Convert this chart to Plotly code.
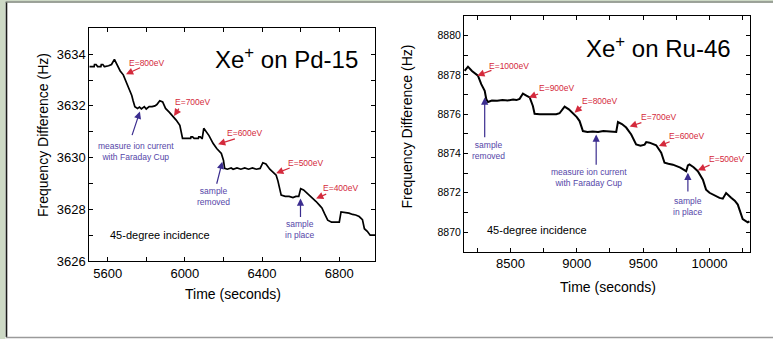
import plotly.graph_objects as go

W, H = 773, 339
FONT = "Liberation Sans, Arial, sans-serif"
RED = "#d42a3c"
BLUE_ARROW = "#3b2d8f"
BLUE_TEXT = "#5546a8"

# ---------------- data: Xe+ on Pd-15 ----------------
pd_time = [5505, 5530, 5532, 5540, 5548, 5550, 5565, 5567, 5575, 5583, 5585, 5605, 5620, 5635, 5650,
           5665, 5681, 5695, 5715, 5725, 5732, 5741, 5755, 5765, 5775, 5790, 5800, 5815, 5830, 5845,
           5855, 5870, 5885, 5900, 5920, 5939, 5955, 5974, 5982, 5988, 6010, 6030, 6032, 6040, 6048,
           6050, 6070, 6072, 6080, 6088, 6090, 6098, 6110, 6125, 6146, 6165, 6189, 6200, 6206, 6220,
           6240, 6250, 6270, 6290, 6310, 6330, 6350, 6370, 6390, 6404, 6420, 6440, 6455, 6473, 6482,
           6490, 6499, 6520, 6540, 6560, 6575, 6590, 6600, 6615, 6630, 6645, 6665, 6680, 6697, 6710,
           6723, 6740, 6760, 6780, 6800, 6809, 6830, 6850, 6869, 6885, 6903, 6920, 6930, 6945, 6960,
           6985]
pd_freq = [3633.52, 3633.52, 3633.6, 3633.6, 3633.52, 3633.52, 3633.52, 3633.6, 3633.6, 3633.52,
           3633.52, 3633.55, 3633.6, 3633.8, 3633.6, 3633.35, 3633.2, 3632.95, 3632.6, 3632.4,
           3632.2, 3631.97, 3631.9, 3631.95, 3631.88, 3631.97, 3631.88, 3631.97, 3631.97, 3632.0,
           3632.05, 3632.2, 3632.15, 3631.9, 3631.75, 3631.6, 3631.45, 3631.25, 3631.0, 3630.74,
           3630.74, 3630.74, 3630.8, 3630.8, 3630.74, 3630.74, 3630.74, 3630.8, 3630.8, 3630.74,
           3630.74, 3631.13, 3631.0, 3630.85, 3630.55, 3630.35, 3630.16, 3629.9, 3629.58, 3629.55,
           3629.6, 3629.55, 3629.6, 3629.55, 3629.6, 3629.55, 3629.6, 3629.55, 3629.58, 3629.8,
           3629.75, 3629.55, 3629.45, 3629.32, 3629.1, 3628.87, 3628.55, 3628.5, 3628.5, 3628.45,
           3628.5, 3628.5, 3628.8, 3628.75, 3628.65, 3628.55, 3628.4, 3628.3, 3628.16, 3628.05,
           3627.84, 3627.58, 3627.5, 3627.5, 3627.5, 3627.9, 3627.88, 3627.85, 3627.8, 3627.78,
           3627.72, 3627.6, 3627.25, 3627.15, 3627.0, 3627.0]

# ---------------- data: Xe+ on Ru-46 ----------------
ru_time = [8155, 8180, 8210, 8255, 8280, 8306, 8318, 8331, 8360, 8400, 8440, 8480, 8520, 8545, 8569,
           8594, 8620, 8645, 8669, 8682, 8720, 8760, 8800, 8845, 8870, 8908, 8940, 8971, 9000, 9021,
           9046, 9080, 9120, 9160, 9200, 9250, 9297, 9310, 9340, 9372, 9410, 9447, 9480, 9511, 9523,
           9548, 9598, 9636, 9661, 9690, 9724, 9780, 9824, 9837, 9849, 9880, 9912, 9950, 9974, 10000,
           10025, 10075, 10100, 10125, 10163, 10190, 10213, 10238, 10250, 10288, 10301]
ru_freq = [8878.21, 8878.42, 8878.2, 8877.96, 8877.53, 8877.19, 8876.76, 8876.62, 8876.7, 8876.68,
           8876.72, 8876.7, 8876.75, 8876.72, 8876.78, 8877.05, 8876.95, 8876.85, 8876.42, 8876.02,
           8876.0, 8876.0, 8876.02, 8876.0, 8876.05, 8876.39, 8876.25, 8876.05, 8875.85, 8875.65,
           8875.14, 8875.1, 8875.12, 8875.1, 8875.14, 8875.12, 8875.1, 8875.6, 8875.5, 8875.32,
           8874.97, 8874.46, 8874.4, 8874.45, 8874.58, 8874.55, 8874.42, 8874.04, 8873.53, 8873.48,
           8873.43, 8873.28, 8873.1, 8873.39, 8873.44, 8873.3, 8873.1, 8872.67, 8872.16, 8872.0,
           8871.9, 8871.74, 8871.7, 8871.99, 8871.75, 8871.6, 8871.4, 8870.97, 8870.66, 8870.5,
           8870.55]

pd_xticks = [5600, 6000, 6400, 6800]
pd_yticks = [3626, 3628, 3630, 3632, 3634]
ru_xticks = [8500, 9000, 9500, 10000]
ru_xticklabels = ["8500", "9000", "9500", "10000"]
ru_yticks = [8870, 8872, 8874, 8876, 8878, 8880]

pd_energy_labels = ["E=800eV", "E=700eV", "E=600eV", "E=500eV", "E=400eV"]
ru_energy_labels = ["E=1000eV", "E=900eV", "E=800eV", "E=700eV", "E=600eV", "E=500eV"]


def px(x):
    return x / W


def py(y):
    return 1 - y / H


fig = go.Figure()
fig.add_trace(go.Scatter(x=pd_time, y=pd_freq, mode="lines", line=dict(color="black", width=1.7),
                         xaxis="x", yaxis="y", showlegend=False))
fig.add_trace(go.Scatter(x=ru_time, y=ru_freq, mode="lines", line=dict(color="black", width=2),
                         xaxis="x2", yaxis="y2", showlegend=False))

axis_common = dict(showline=True, linecolor="black", linewidth=1, mirror="ticks", ticks="inside",
                   ticklen=4, tickcolor="black", showgrid=False, zeroline=False, automargin=False,
                   tickfont=dict(family=FONT, size=13, color="black"))

fig.update_layout(
    width=W, height=H, margin=dict(l=0, r=0, t=0, b=0, pad=0, autoexpand=False),
    paper_bgcolor="white", plot_bgcolor="white", showlegend=False,
    xaxis=dict(domain=[px(89.3), px(375)], range=[5505, 6985], tickvals=pd_xticks,
               minor=dict(dtick=200, tick0=5600, ticks="inside", ticklen=4, tickcolor="black"),
               anchor="y", **axis_common),
    yaxis=dict(domain=[py(261), py(28.3)], range=[3626, 3635], tickvals=pd_yticks,
               minor=dict(dtick=1, tick0=3626, ticks="inside", ticklen=4, tickcolor="black"),
               anchor="x", **axis_common),
    xaxis2=dict(domain=[px(464), px(750)], range=[8150, 10305], tickvals=ru_xticks,
                ticktext=ru_xticklabels,
                minor=dict(dtick=250, tick0=8500, ticks="inside", ticklen=4, tickcolor="black"),
                anchor="y2", **axis_common),
    yaxis2=dict(domain=[py(251.7), py(16)], range=[8869, 8881], tickvals=ru_yticks,
                minor=dict(dtick=1, tick0=8870, ticks="inside", ticklen=4, tickcolor="black"),
                anchor="x2", **{**axis_common, "tickfont": dict(family=FONT, size=10.5, color="black")}),
)

ann = []


def text(x, y, s, color, size, xref="x", yref="y"):
    ann.append(dict(x=x, y=y, xref=xref, yref=yref, text=s, showarrow=False,
                    font=dict(family=FONT, size=size, color=color), xanchor="center", yanchor="middle"))


def arrow(x, y, ax, ay, color, xr="x", yr="y"):
    ann.append(dict(x=x, y=y, ax=ax, ay=ay, xref=xr, yref=yr, axref=xr, ayref=yr, text="",
                    showarrow=True, arrowhead=2, arrowsize=1.2, arrowwidth=1.2, arrowcolor=color))


# Pd panel energy labels: (text pos, tail, tip)
pd_e_pos = [((5802, 3633.66), (5776, 3633.5), (5695, 3633.22)),
            ((6041, 3632.16), (5974, 3631.95), (5944, 3631.61)),
            ((6310, 3630.97), (6267, 3630.74), (6172, 3630.52)),
            ((6625, 3629.78), (6551, 3629.62), (6473, 3629.39)),
            ((6809, 3628.81), (6740, 3628.61), (6680, 3628.42))]
for lab, (tp, tail, tip) in zip(pd_energy_labels, pd_e_pos):
    text(tp[0], tp[1], lab, RED, 8.5)
    arrow(tip[0], tip[1], tail[0], tail[1], RED)

text(5746, 3630.24, "measure ion current<br>with Faraday Cup", BLUE_TEXT, 8.5)
arrow(5767, 3631.78, 5724, 3630.81, BLUE_ARROW)
text(6146, 3628.5, "sample<br>removed", BLUE_TEXT, 8.5)
arrow(6194, 3629.84, 6163, 3628.93, BLUE_ARROW)
text(6594, 3627.21, "sample<br>in place", BLUE_TEXT, 8.5)
arrow(6599, 3628.42, 6599, 3627.64, BLUE_ARROW)
text(5870, 3627.0, "45-degree incidence", "black", 11)

# Ru panel
ru_e_pos = [((8489, 8878.47), (8368, 8878.26), (8250, 8877.96)),
            ((8850, 8877.33), (8720, 8877.06), (8639, 8876.85)),
            ((9174, 8876.66), (9046, 8876.46), (8983, 8876.08)),
            ((9618, 8875.88), (9498, 8875.60), (9398, 8875.37)),
            ((9829, 8874.87), (9711, 8874.63), (9618, 8874.38)),
            ((10130, 8873.70), (10012, 8873.44), (9912, 8873.15))]
for lab, (tp, tail, tip) in zip(ru_energy_labels, ru_e_pos):
    text(tp[0], tp[1], lab, RED, 8.5, "x2", "y2")
    arrow(tip[0], tip[1], tail[0], tail[1], RED, "x2", "y2")

text(8338, 8874.14, "sample<br>removed", BLUE_TEXT, 8.5, "x2", "y2")
arrow(8306, 8876.85, 8306, 8874.75, BLUE_ARROW, "x2", "y2")
text(9089, 8872.78, "measure ion current<br>with Faraday Cup", BLUE_TEXT, 8.5, "x2", "y2")
arrow(9146, 8874.97, 9146, 8873.35, BLUE_ARROW, "x2", "y2")
text(9837, 8871.29, "sample<br>in place", BLUE_TEXT, 8.5, "x2", "y2")
arrow(9837, 8873.02, 9837, 8871.99, BLUE_ARROW, "x2", "y2")
text(8700, 8870.12, "45-degree incidence", "black", 11, "x2", "y2")

# titles and axis titles (paper coords)
text(px(286.5), py(58), "Xe<sup>+</sup> on Pd-15", "black", 24, "paper", "paper")
text(px(658), py(47), "Xe<sup>+</sup> on Ru-46", "black", 24, "paper", "paper")
text(px(233), py(293.5), "Time (seconds)", "black", 14, "paper", "paper")
text(px(607.7), py(286.7), "Time (seconds)", "black", 14, "paper", "paper")
ann.append(dict(x=px(33), y=py(135), xref="paper", yref="paper", text="Frequency Difference (Hz)",
                showarrow=False, textangle=-90, font=dict(family=FONT, size=14, color="black")))
ann.append(dict(x=px(406), y=py(126.5), xref="paper", yref="paper", text="Frequency Difference (Hz)",
                showarrow=False, textangle=-90, font=dict(family=FONT, size=14, color="black")))

fig.update_layout(annotations=ann)

# decorative frame
shapes = [
    dict(type="rect", xref="paper", yref="paper", x0=0, x1=px(5.5), y0=0, y1=1,
         fillcolor="#cdd9c5", line=dict(width=0), layer="below"),
    dict(type="rect", xref="paper", yref="paper", x0=0, x1=1, y0=py(1.2), y1=1,
         fillcolor="#cdd9c5", line=dict(width=0), layer="below"),
    dict(type="line", xref="paper", yref="paper", x0=px(6.5), x1=px(6.5), y0=py(337), y1=py(2),
         line=dict(color="#1a1a1a", width=1.6)),
    dict(type="line", xref="paper", yref="paper", x0=px(5.5), x1=1, y0=py(2), y1=py(2),
         line=dict(color="#7d8478", width=1.5)),
    dict(type="line", xref="paper", yref="paper", x0=px(6), x1=1, y0=py(337.5), y1=py(337.5),
         line=dict(color="#9a9a9a", width=1.5)),
]
fig.update_layout(shapes=shapes)

fig.write_html("out.html")
